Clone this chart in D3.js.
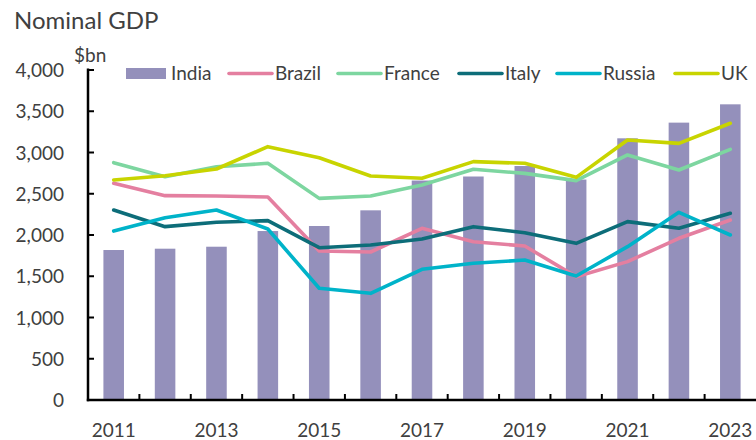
<!DOCTYPE html>
<html>
<head>
<meta charset="utf-8">
<script src="https://cdn.jsdelivr.net/npm/d3@7"></script>
<style>
    body { margin: 0; background: #fff; }
    svg text { font-family: Lato, "Open Sans", sans-serif; fill: #404040; }
</style>
</head>
<body>
<svg id="chart" width="756" height="440"></svg>
<script>
var years = ['2011', '2012', '2013', '2014', '2015', '2016', '2017', '2018', '2019', '2020', '2021', '2022', '2023'];
var yearLabels = ['2011', '2013', '2015', '2017', '2019', '2021', '2023'];
var yTicks = [0, 500, 1000, 1500, 2000, 2500, 3000, 3500, 4000];

// bars
var india = [1818, 1834, 1858, 2048, 2109, 2299, 2660, 2709, 2836, 2672, 3172, 3362, 3584];

// lines
var brazil = [2626, 2477, 2473, 2461, 1806, 1794, 2081, 1919, 1867, 1495, 1677, 1960, 2182];
var france = [2877, 2707, 2828, 2869, 2444, 2473, 2606, 2796, 2747, 2659, 2970, 2788, 3038];
var italy  = [2303, 2101, 2154, 2174, 1846, 1879, 1952, 2101, 2028, 1899, 2162, 2081, 2263];
var russia = [2048, 2210, 2303, 2073, 1354, 1293, 1584, 1657, 1697, 1503, 1859, 2275, 2000];
var uk     = [2667, 2719, 2800, 3071, 2937, 2715, 2687, 2889, 2869, 2699, 3152, 3111, 3354];

var lines = [
    { name: 'Brazil', values: brazil, color: '#e47fa0' },
    { name: 'France', values: france, color: '#7dd6a0' },
    { name: 'Italy',  values: italy,  color: '#0d6d79' },
    { name: 'Russia', values: russia, color: '#00b3c9' },
    { name: 'UK',     values: uk,     color: '#c8d400' }
];
var barColor = '#9490bb';

var svg = d3.select('#chart');
var plotLeft = 88, plotRight = 756, plotTop = 70, plotBottom = 400;

var x = d3.scaleBand().domain(years).range([plotLeft, plotRight]).paddingInner(0.6).paddingOuter(0.3);
var y = d3.scaleLinear().domain([0, 4000]).range([plotBottom, plotTop]);
var step = x.step();
var cx = function(yr) { return x(yr) + x.bandwidth() / 2; };

// title
svg.append('text')
    .attr('x', 14).attr('y', 29)
    .style('font-size', '24px')
    .text('Nominal GDP');

svg.append('text')
    .attr('x', 74).attr('y', 62)
    .style('font-size', '19px')
    .text('$bn');

// bars
svg.append('g').selectAll('rect')
    .data(india)
    .enter().append('rect')
    .attr('x', function(d, i) { return x(years[i]); })
    .attr('width', x.bandwidth())
    .attr('y', function(d) { return y(d); })
    .attr('height', function(d) { return y(0) - y(d); })
    .style('fill', barColor);

// lines
var line = d3.line()
    .x(function(d, i) { return cx(years[i]); })
    .y(function(d) { return y(d); });

svg.append('g').selectAll('path')
    .data(lines)
    .enter().append('path')
    .attr('d', function(s) { return line(s.values); })
    .style('fill', 'none')
    .style('stroke', function(s) { return s.color; })
    .style('stroke-width', 3.6)
    .style('stroke-linejoin', 'round')
    .style('stroke-linecap', 'round');

// y axis
var yAxis = svg.append('g');
yAxis.append('line')
    .attr('x1', plotLeft).attr('x2', plotLeft)
    .attr('y1', y(4000) - 1.5).attr('y2', plotBottom + 1.2)
    .style('stroke', '#000').style('stroke-width', 2.5);
yAxis.selectAll('.tick')
    .data(yTicks)
    .enter().append('line')
    .attr('x1', plotLeft).attr('x2', plotLeft + 6)
    .attr('y1', function(d) { return y(d); })
    .attr('y2', function(d) { return y(d); })
    .style('stroke', '#000').style('stroke-width', 2);
yAxis.selectAll('text')
    .data(yTicks)
    .enter().append('text')
    .attr('x', 64)
    .attr('y', function(d) { return y(d) + 7; })
    .attr('text-anchor', 'end')
    .style('font-size', '19px')
    .text(function(d) { return d3.format(',')(d); });

// x axis
var xAxis = svg.append('g');
xAxis.append('line')
    .attr('x1', plotLeft - 1.2).attr('x2', plotRight)
    .attr('y1', plotBottom).attr('y2', plotBottom)
    .style('stroke', '#000').style('stroke-width', 2.5);
xAxis.selectAll('.tick')
    .data(years.slice(1))
    .enter().append('line')
    .attr('x1', function(d) { return cx(d) - step / 2; })
    .attr('x2', function(d) { return cx(d) - step / 2; })
    .attr('y1', plotBottom).attr('y2', plotBottom - 6)
    .style('stroke', '#000').style('stroke-width', 2);
xAxis.selectAll('text')
    .data(yearLabels)
    .enter().append('text')
    .attr('x', function(d) { return cx(d); })
    .attr('y', 437)
    .attr('text-anchor', 'middle')
    .style('font-size', '19px')
    .text(function(d) { return d; });

// legend
var legend = svg.append('g');
legend.append('rect')
    .attr('x', 126).attr('y', 68).attr('width', 40).attr('height', 11)
    .style('fill', barColor);
legend.append('text')
    .attr('x', 171).attr('y', 80)
    .style('font-size', '19px')
    .text('India');

var legendX = [229, 338, 459, 557, 675];
lines.forEach(function(s, i) {
    legend.append('line')
        .attr('x1', legendX[i]).attr('x2', legendX[i] + 43)
        .attr('y1', 73.5).attr('y2', 73.5)
        .style('stroke', s.color).style('stroke-width', 3.6)
        .style('stroke-linecap', 'round');
    legend.append('text')
        .attr('x', legendX[i] + 46).attr('y', 80)
        .style('font-size', '19px')
        .text(s.name);
});
</script>
</body>
</html>
